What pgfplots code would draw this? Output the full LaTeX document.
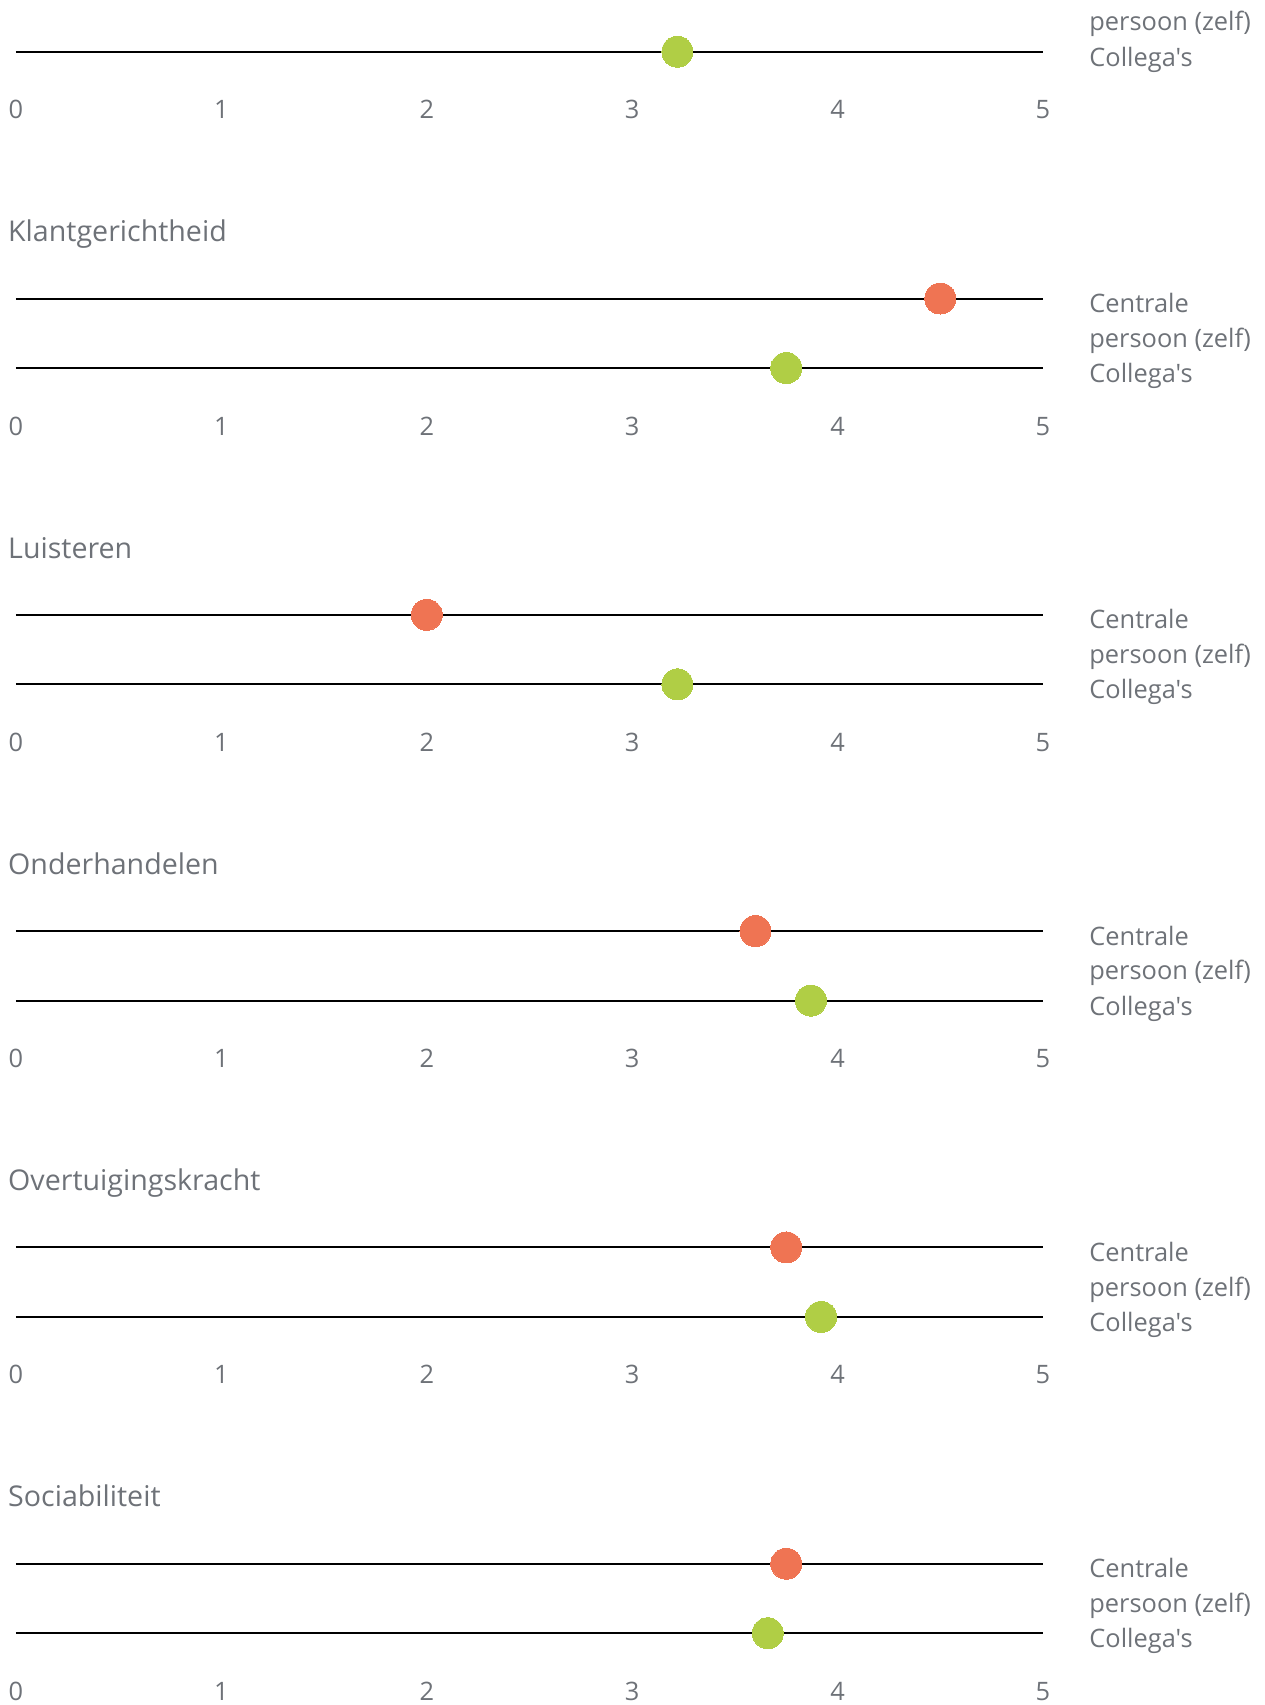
\documentclass[border=0pt]{standalone}
\usepackage{pgfplots}
\pgfplotsset{compat=1.18}
\usepackage{fontspec}
\setmainfont{Open Sans}[Ligatures=TeXOff]
\definecolor{dotorange}{RGB}{239,116,83}
\definecolor{dotgreen}{RGB}{176,206,69}
\definecolor{txtgray}{RGB}{110,114,120}

\tikzset{
  lbl/.style={anchor=base west, inner sep=0pt, text=txtgray, font=\fontsize{12.7}{15}\selectfont},
}
\pgfplotsset{
  panel/.style={
    anchor=south west,
    scale only axis,
    width=513.5pt, height=34.75pt,
    xmin=0, xmax=5, ymin=0, ymax=1,
    clip=false,
    hide y axis,
    axis line style={draw=none},
    xtick={0,1,2,3,4,5},
    major tick length=0pt,
    /pgf/number format/assume math mode=true,
    xticklabel style={anchor=base, yshift=-33.5pt, font=\fontsize{12.7}{15}\selectfont, text=txtgray},
  },
  rail/.style={black, line width=1pt},
  centrale/.style={only marks, mark=*, mark size=7.75pt, color=dotorange, mark options={fill=dotorange, draw=dotorange, line width=0pt}},
  collega/.style={only marks, mark=*, mark size=7.75pt, color=dotgreen, mark options={fill=dotgreen, draw=dotgreen, line width=0pt}},
}
\newcommand{\legendlow}{%
  \node[lbl] at (axis cs:5.224,0.30) {persoon (zelf)};
  \node[lbl] at (axis cs:5.224,-0.21) {Collega's};
}
\newcommand{\paneltext}[1]{%
  \node[anchor=base west, inner sep=0pt, text=txtgray, font=\fontsize{14.3}{17}\selectfont] at (axis cs:-0.04,1.817) {#1};
  \node[lbl] at (axis cs:5.224,0.796) {Centrale};
  \legendlow
}

\begin{document}
\begin{tikzpicture}
\useasboundingbox (0,-852.5pt) rectangle (632.5pt,0);
\clip (0,-852.5pt) rectangle (632.5pt,0);

% panel cut off at the top
\begin{axis}[panel, at={(8pt,-25.85pt)}]
  \addplot[rail] coordinates {(0,1) (5,1)};
  \addplot[rail] coordinates {(0,0) (5,0)};
  \addplot[collega] coordinates {(3.22,0)};
  \legendlow
\end{axis}

\begin{axis}[panel, at={(8pt,-184pt)}]
  \addplot[rail] coordinates {(0,1) (5,1)};
  \addplot[rail] coordinates {(0,0) (5,0)};
  \addplot[centrale] coordinates {(4.50,1)};
  \addplot[collega] coordinates {(3.75,0)};
  \paneltext{Klantgerichtheid}
\end{axis}

\begin{axis}[panel, at={(8pt,-342.15pt)}]
  \addplot[rail] coordinates {(0,1) (5,1)};
  \addplot[rail] coordinates {(0,0) (5,0)};
  \addplot[centrale] coordinates {(2.00,1)};
  \addplot[collega] coordinates {(3.22,0)};
  \paneltext{Luisteren}
\end{axis}

\begin{axis}[panel, at={(8pt,-500.3pt)}]
  \addplot[rail] coordinates {(0,1) (5,1)};
  \addplot[rail] coordinates {(0,0) (5,0)};
  \addplot[centrale] coordinates {(3.60,1)};
  \addplot[collega] coordinates {(3.87,0)};
  \paneltext{Onderhandelen}
\end{axis}

\begin{axis}[panel, at={(8pt,-658.45pt)}]
  \addplot[rail] coordinates {(0,1) (5,1)};
  \addplot[rail] coordinates {(0,0) (5,0)};
  \addplot[centrale] coordinates {(3.75,1)};
  \addplot[collega] coordinates {(3.92,0)};
  \paneltext{Overtuigingskracht}
\end{axis}

\begin{axis}[panel, at={(8pt,-816.6pt)}]
  \addplot[rail] coordinates {(0,1) (5,1)};
  \addplot[rail] coordinates {(0,0) (5,0)};
  \addplot[centrale] coordinates {(3.75,1)};
  \addplot[collega] coordinates {(3.66,0)};
  \paneltext{Sociabiliteit}
\end{axis}
\end{tikzpicture}
\end{document}
